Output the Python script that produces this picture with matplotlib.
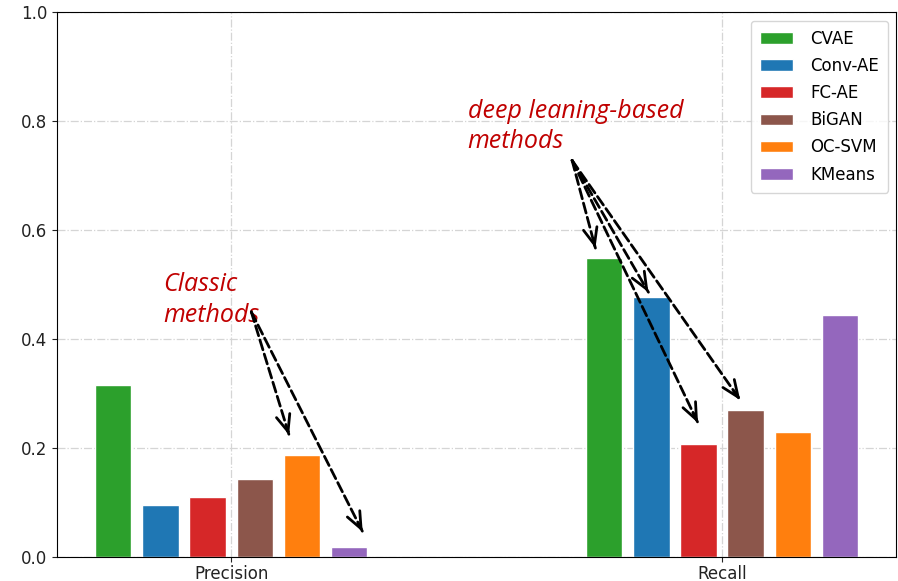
import matplotlib
matplotlib.use('Agg')
import matplotlib.pyplot as plt
import numpy as np

# Scores per metric for each model
metrics = ['Precision', 'Recall']
models = ['CVAE', 'Conv-AE', 'FC-AE', 'BiGAN', 'OC-SVM', 'KMeans']
colors = ['tab:green', 'tab:blue', 'tab:red', 'tab:brown', 'tab:orange', 'tab:purple']
precision = [0.316, 0.095, 0.110, 0.143, 0.187, 0.018]
recall = [0.549, 0.477, 0.207, 0.270, 0.229, 0.444]


def dashed_arrow(ax, start, end):
    # dashed shaft, then a short solid segment carrying the head
    ax.annotate('', xy=end, xytext=start,
                arrowprops=dict(arrowstyle='-', linestyle='--', lw=2,
                                color='black', shrinkA=0, shrinkB=0))
    sx, sy = start
    ex, ey = end
    back = (ex - 0.04 * (ex - sx), ey - 0.04 * (ey - sy))
    ax.annotate('', xy=end, xytext=back,
                arrowprops=dict(arrowstyle='->, head_length=0.6, head_width=0.25',
                                lw=2, color='black',
                                mutation_scale=20, shrinkA=0, shrinkB=0))


if __name__ == '__main__':

    fig = plt.figure(figsize=(8.98, 5.81), dpi=100)
    ax = fig.add_axes([0.0635, 0.0413, 0.9345, 0.9377])

    x = np.arange(len(metrics))
    step = 0.096
    width = 0.074
    scores = np.array([precision, recall])
    for i, name in enumerate(models):
        offset = (i - (len(models) - 1) / 2.0) * step
        ax.bar(x + offset, scores[:, i], width, color=colors[i],
               edgecolor='white', linewidth=1, label=name, zorder=2)

    ax.set_xticks(x)
    ax.set_xticklabels(metrics)
    ax.set_ylim(0, 1.0)
    ax.set_yticks(np.arange(0, 1.01, 0.2))
    ax.tick_params(labelsize=12, colors='#222222')
    ax.tick_params(axis='x', pad=2)
    ax.grid(True, linestyle='-.', color='#d5d5d5', linewidth=0.9, zorder=0)
    ax.set_axisbelow(True)

    ax.legend(loc='upper right', fontsize=12, borderpad=0.55, labelspacing=0.55,
              handletextpad=1.0)

    # Red italic notes with dashed arrows pointing at groups of bars
    note = dict(color='#C00000', fontsize=18, style='italic', family='Open Sans')
    ax.text(-0.138, 0.431, 'Classic\nmethods', va='baseline', ha='left',
            linespacing=1.3, **note)
    ax.text(0.482, 0.750, 'deep leaning-based\nmethods', va='baseline', ha='left',
            linespacing=1.3, **note)

    classic_start = (0.041, 0.450)
    for end in [(0.118, 0.224), (0.268, 0.046)]:
        dashed_arrow(ax, classic_start, end)
    deep_start = (0.6945, 0.728)
    for end in [(0.742, 0.567), (0.850, 0.486), (0.951, 0.246), (1.037, 0.288)]:
        dashed_arrow(ax, deep_start, end)

    plt.savefig('out.png', dpi=100)
